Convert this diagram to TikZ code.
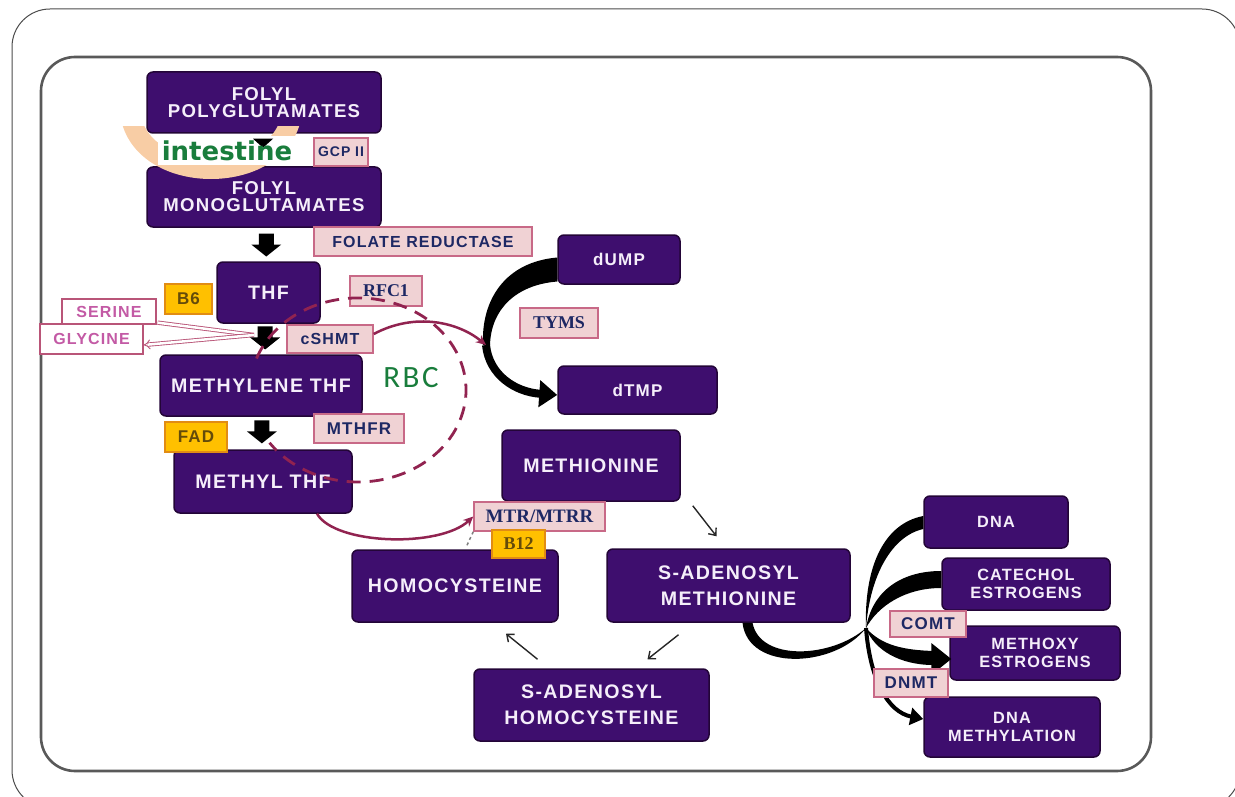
\documentclass[tikz,border=0pt]{standalone}
\usepackage{fontspec}
\setmainfont{Liberation Sans}
\newfontfamily\bxf[LetterSpace=7]{Liberation Sans}
\newfontfamily\tmf{Liberation Serif}
\newfontfamily\rbcf[LetterSpace=8]{Carlito}
\newfontfamily\intf{DejaVu Sans}
\usetikzlibrary{arrows.meta,calc}

\definecolor{purp}{RGB}{62,14,110}
\definecolor{purpedge}{RGB}{35,5,55}
\definecolor{boxtxt}{RGB}{245,238,250}
\definecolor{pinkfill}{RGB}{240,210,212}
\definecolor{pinkedge}{RGB}{200,105,135}
\definecolor{navy}{RGB}{30,40,100}
\definecolor{orfill}{RGB}{255,192,0}
\definecolor{oredge}{RGB}{225,140,20}
\definecolor{ortxt}{RGB}{100,75,10}
\definecolor{maroonc}{RGB}{145,35,80}
\definecolor{peach}{RGB}{248,205,165}
\definecolor{grn}{RGB}{25,125,60}
\definecolor{aminotxt}{RGB}{195,90,165}
\definecolor{aminoedge}{RGB}{185,85,120}

\tikzset{
  pbox/.style={rectangle, rounded corners=6, fill=purp, draw=purpedge, line width=1.5,
    text=boxtxt, align=center, inner sep=0pt},
  bigf/.style={font=\bxf\bfseries\fontsize{19.6}{17}\selectfont},
  twof/.style={font=\bxf\bfseries\fontsize{19.6}{26}\selectfont},
  medf/.style={font=\bxf\bfseries\fontsize{17}{18}\selectfont},
  smlf/.style={font=\bxf\bfseries\fontsize{16.3}{18}\selectfont},
  lab/.style={rectangle, fill=pinkfill, draw=pinkedge, line width=1.5, text=navy,
    inner sep=0pt, font=\bxf\bfseries\fontsize{16}{18}\selectfont},
  tlab/.style={lab, font=\tmf\bfseries\fontsize{18}{20}\selectfont},
  orbox/.style={rectangle, fill=orfill, draw=oredge, line width=1.5, text=ortxt,
    inner sep=0pt, font=\bxf\bfseries\fontsize{17}{18}\selectfont},
  amino/.style={rectangle, fill=white, draw=aminoedge, line width=1.3, text=aminotxt,
    inner sep=0pt, font=\bxf\bfseries\fontsize{16}{18}\selectfont},
  dbl/.style={draw=aminoedge, double=white, double distance=2.5pt, line width=0.9pt},
  thinarr/.style={line width=1.4, black!85, -{Straight Barb[length=6pt,width=10pt]}},
  mline/.style={draw=maroonc, line width=2.5, -{Stealth[length=10pt,width=9pt]}},
  blk/.pic={\fill[black] (-7.5,-11) -- (7.5,-11) -- (7.5,0) -- (15,0) -- (0,12) -- (-15,0) -- (-7.5,0) -- cycle;}
}

\begin{document}
\begin{tikzpicture}[x=1pt,y=-1pt]
\useasboundingbox (0,0) rectangle (1235,797);
% frames
\draw[black!70, line width=1, rounded corners=38] (12,9) rectangle (1240,808);
\draw[black!65, line width=2.6, rounded corners=34] (41,57) rectangle (1151,771);

% main boxes
\node[pbox, font=\bxf\bfseries\fontsize{18.6}{17}\selectfont, minimum width=234, minimum height=61] (poly) at (264,102.5) {FOLYL\\POLYGLUTAMATES};
\node[pbox, font=\bxf\bfseries\fontsize{18.6}{17}\selectfont, minimum width=234, minimum height=60] (mono) at (264,197) {FOLYL\\MONOGLUTAMATES};
\node[pbox, bigf, minimum width=103, minimum height=61] (thf) at (268.5,292.5) {THF};
\node[pbox, bigf, minimum width=202, minimum height=61] (mlthf) at (261,385.5) {METHYLENE THF};
\node[pbox, bigf, minimum width=178, minimum height=63] (mthf) at (263,481.5) {METHYL THF};
\node[pbox, medf, minimum width=122, minimum height=49] (dump) at (619,259.5) {dUMP};
\node[pbox, medf, minimum width=159, minimum height=48] (dtmp) at (637.5,390) {dTMP};
\node[pbox, bigf, minimum width=178, minimum height=71] (met) at (591,465.5) {METHIONINE};
\node[pbox, bigf, minimum width=206, minimum height=72] (hcy) at (455,586) {HOMOCYSTEINE};
\node[pbox, twof, minimum width=243, minimum height=73] (sam) at (728.5,585.5) {S-ADENOSYL\\METHIONINE};
\node[pbox, twof, minimum width=235, minimum height=72] (sah) at (591.5,705) {S-ADENOSYL\\HOMOCYSTEINE};
\node[pbox, smlf, minimum width=144, minimum height=52] (dna) at (996,522) {DNA};
\node[pbox, smlf, minimum width=168, minimum height=52] (cat) at (1026,584) {CATECHOL\\ESTROGENS};
\node[pbox, smlf, minimum width=170, minimum height=54] (mex) at (1035,653) {METHOXY\\ESTROGENS};
\node[pbox, smlf, minimum width=176, minimum height=60] (dnam) at (1012,727) {DNA\\METHYLATION};

% serine / glycine
\node[amino, minimum width=94, minimum height=25] (ser) at (109,311.5) {SERINE};
\node[amino, minimum width=103, minimum height=30] (gly) at (91.5,339) {GLYCINE};
\coordinate (src) at (254,335);
\draw[dbl] (src) -- ([xshift=1,yshift=2]ser.south east);
\draw[dbl, -{Implies}] (src) -- ([yshift=-6]gly.east);

% intestine crescent
\begin{scope}
  \clip (100,127) rectangle (320,200);
  \draw[peach, line width=20] (131,118) .. controls (146,186) and (276,186) .. (291,118);
\end{scope}
\fill[white] (158,136) rectangle (298,165);
\fill[black] ($(poly.south)+(-11,5)$) -- ($(poly.south)+(9,5)$) -- ($(poly.south)+(-1,14)$) -- cycle;
\node[font=\intf\bfseries\fontsize{26}{28}\selectfont, text=grn] (intes) at (227,151) {intestine};

% block arrows
\pic at ($(mono.south)!0.5!(thf.north)$) {blk};
\pic at ($(thf.south)!0.45!(mlthf.north)$) {blk};
\pic at ($(mlthf.south)!0.45!(mthf.north)$) {blk};

% enzyme labels
\node[lab, font=\bxf\bfseries\fontsize{14}{16}\selectfont, minimum width=54, minimum height=28] (gcp) at (341,152) {GCP II};
\node[lab, minimum width=218, minimum height=29] (fr) at (423,241.5) {FOLATE REDUCTASE};
\node[tlab, minimum width=72, minimum height=30] (rfc) at (386,291) {RFC1};
\node[lab, minimum width=86, minimum height=28] (cshmt) at (330,339) {cSHMT};
\node[lab, font=\bxf\bfseries\fontsize{17}{18}\selectfont, minimum width=90, minimum height=29] (mthfr) at (359,428.5) {MTHFR};
\node[tlab, minimum width=78, minimum height=30] (tyms) at (559,323) {TYMS};
\node[tlab, font=\tmf\bfseries\fontsize{19}{20}\selectfont, minimum width=131, minimum height=29] (mtr) at (539.5,516.5) {MTR/MTRR};

% cofactors
\node[orbox, minimum width=47, minimum height=30] (b6) at (188.5,299) {B6};
\node[orbox, minimum width=62, minimum height=30] (fad) at (196,437) {FAD};
\node[orbox, font=\tmf\bfseries\fontsize{18}{20}\selectfont, minimum width=53, minimum height=28] (b12) at (518.5,544) {B12};

% RBC
\node[font=\rbcf\fontsize{31}{32}\selectfont, text=grn] (rbc) at (411,378) {RBC};

% dUMP -> dTMP
\coordinate (join) at (486,345);
\fill[black] ([yshift=2]dump.west) .. controls (505,262) and (481,300) .. ($(join)+(-3,0)$)
   -- ($(join)+(4,0)$) .. controls (491,310) and (515,285) .. ([yshift=-22]dump.west) -- cycle;
\draw[line width=8, -{Triangle[length=18pt,width=26pt]}] (join) .. controls (489,375) and (515,392) .. ([yshift=-5]dtmp.west);
\draw[mline] ([yshift=5]cshmt.east) .. controls (415,312) and (458,322) .. (join);

% methyl THF -> MTR
\draw[mline] ([xshift=54]mthf.south) .. controls (335,545) and (440,548) .. (mtr.west);
\draw[gray, line width=1.5, dashed] ([xshift=12,yshift=4]hcy.north) -- (mtr.south west);

% SAM cycle
\draw[thinarr] ($(met.south east)+(12,4)$) -- ($(sam.north)+(-12,-12)$);
\draw[thinarr] ($(sam.south)+(-50,12)$) -- ($(sah.north)+(56,-9)$);
\draw[thinarr] ($(sah.north)+(-54,-9)$) -- ($(hcy.south)+(51,11)$);

% right cluster
\coordinate (hub) at (866,628);
\fill[black] ([xshift=14]sam.south) .. controls (748,672) and (835,668) .. (hub)
   .. controls (832,658) and (760,662) .. ([xshift=24]sam.south) -- cycle;
\fill[black] (hub) .. controls (864,570) and (882,524) .. ([yshift=6]dna.west)
   -- ([yshift=-7]dna.west) .. controls (892,536) and (870,575) .. (hub) -- cycle;
\fill[black] (hub) .. controls (872,592) and (900,571) .. ([yshift=13]cat.west)
   -- ([yshift=-4]cat.west) .. controls (905,588) and (878,606) .. (hub) -- cycle;
\fill[black] (hub) .. controls (882,646) and (905,650) .. ($(mex.west)+(-16,-2)$)
   -- ($(mex.west)+(-16,12)$) .. controls (900,665) and (874,650) .. (hub) -- cycle;
\fill[black] ($(mex.west)+(-18,-10)$) -- ($(mex.west)+(2,6)$) -- ($(mex.west)+(-18,22)$) -- cycle;
\draw[line width=4, -{Triangle[length=13pt,width=17pt]}] (hub) .. controls (870,680) and (888,712) .. ([yshift=8]dnam.west);
\node[lab, font=\bxf\bfseries\fontsize{17}{18}\selectfont, minimum width=76, minimum height=26] (comt) at (928,624) {COMT};
\node[lab, font=\bxf\bfseries\fontsize{17}{18}\selectfont, minimum width=74, minimum height=28] (dnmt) at (911,683) {DNMT};

% RBC dashed boundary
\draw[maroonc, line width=2.8, dash pattern=on 14pt off 9pt] (256.5,358.5) arc[start angle=200, end angle=505, x radius=108, y radius=92];
\end{tikzpicture}
\end{document}
